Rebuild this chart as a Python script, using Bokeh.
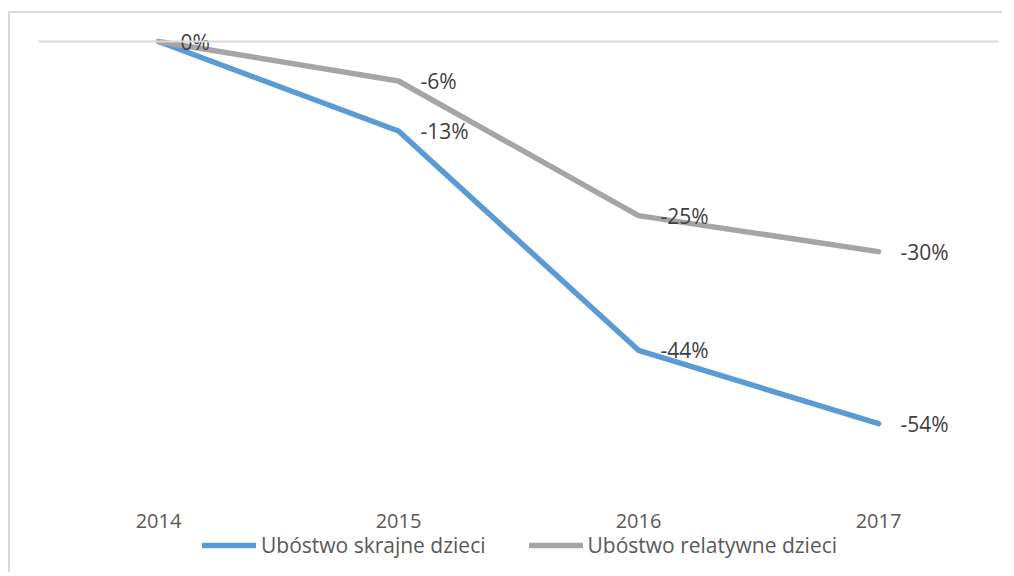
from bokeh.plotting import figure
from bokeh.models import Range1d, Span, Legend, LegendItem, ColumnDataSource
from bokeh.core.properties import value
from bokeh.embed import file_html
from bokeh.resources import INLINE

years = ["2014", "2015", "2016", "2017"]
extreme = [0.0, -12.7, -43.8, -54.2]      # Ubóstwo skrajne dzieci (%)
relative = [0.0, -5.6, -24.7, -29.8]      # Ubóstwo relatywne dzieci (%)
series_names = ["Ubóstwo skrajne dzieci", "Ubóstwo relatywne dzieci"]
series_colors = ["#5B9BD5", "#A5A5A5"]

FONT = "Open Sans"

p = figure(width=994, height=561, x_range=years, y_range=Range1d(-75.6, 2.98),
           output_backend="svg", toolbar_location=None,
           min_border_left=28, min_border_right=6, min_border_top=7, min_border_bottom=0,
           styles={"border-left": "2px solid #d9d9d9", "border-top": "2px solid #d9d9d9",
                   "margin-top": "11px", "margin-left": "8px"})
p.outline_line_color = None
p.background_fill_color = "white"
p.border_fill_color = "white"
p.xgrid.visible = False
p.ygrid.visible = False
p.yaxis.visible = False

xa = p.xaxis[0]
xa.fixed_location = -65.8
xa.axis_line_color = None
xa.major_tick_line_color = None
xa.minor_tick_line_color = None
xa.major_label_text_font = FONT
xa.major_label_text_font_size = "20px"
xa.major_label_text_color = "#595959"
xa.major_label_standoff = 3

p.add_layout(Span(location=0, dimension="width", line_color="#D9D9D9", line_width=2))

renderers = []
for vals, col in zip([extreme, relative], series_colors):
    r = p.line(years, vals, line_color=col, line_width=5.5, line_join="round", line_cap="round")
    renderers.append(r)

# data labels (skip duplicated positions)
lx, ly, lt = [], [], []
seen = set()
for vals in [relative, extreme]:
    for yr, v in zip(years, vals):
        t = f"{round(v):d}%"
        key = (yr, t)
        if key in seen:
            continue
        seen.add(key)
        lx.append(yr)
        ly.append(v)
        lt.append(t)
src = ColumnDataSource(dict(x=lx, y=ly, t=lt))
p.text(x="x", y="y", text="t", source=src, x_offset=22, text_align="left",
       text_baseline="middle", text_font=value(FONT), text_font_size="21px",
       text_color="#404040")

legend = Legend(items=[LegendItem(label=n, renderers=[r]) for n, r in zip(series_names, renderers)],
                orientation="horizontal", location=(164, 15),
                border_line_color=None, background_fill_alpha=0,
                padding=0, margin=0, spacing=43, glyph_width=54, glyph_height=20,
                label_standoff=5, label_text_font=FONT, label_text_font_size="21px",
                label_text_color="#595959")
p.add_layout(legend)

open("out.html", "w").write(file_html(p, INLINE))
